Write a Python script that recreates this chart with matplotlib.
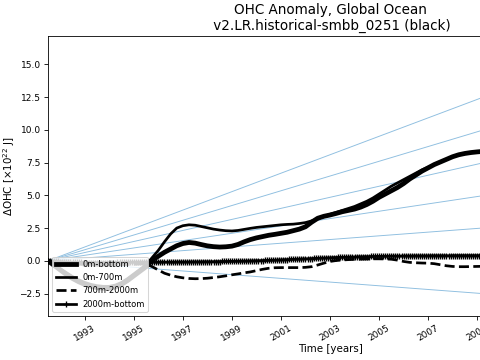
import numpy as np
import matplotlib
matplotlib.use('Agg')
import matplotlib.pyplot as plt

# quarterly values from 1991.5 to 2009.5, units 1e22 J
ohc_0_bottom = [
    0.00, -0.35, -0.70, -1.05,
    -1.35, -1.60, -1.80, -1.95,
    -2.05, -2.10, -2.10, -2.00,
    -1.80, -1.50, -1.15, -0.80,
    -0.45, 0.05, 0.35, 0.65,
    0.90, 1.15, 1.32, 1.40,
    1.35, 1.24, 1.14, 1.08,
    1.05, 1.07, 1.12, 1.25,
    1.45, 1.62, 1.75, 1.85,
    1.95, 2.02, 2.10, 2.18,
    2.30, 2.42, 2.60, 2.95,
    3.25, 3.40, 3.50, 3.62,
    3.75, 3.85, 3.95, 4.10,
    4.30, 4.55, 4.85, 5.10,
    5.35, 5.60, 5.90, 6.25,
    6.55, 6.85, 7.10, 7.35,
    7.55, 7.75, 7.95, 8.10,
    8.20, 8.27, 8.32, 8.36,
    8.38,
]
ohc_0_700 = [
    0.00, -0.30, -0.60, -0.90,
    -1.20, -1.45, -1.65, -1.80,
    -1.90, -1.95, -1.95, -1.85,
    -1.65, -1.35, -1.00, -0.65,
    -0.30, 0.25, 0.80, 1.45,
    2.05, 2.50, 2.68, 2.75,
    2.72, 2.62, 2.52, 2.42,
    2.35, 2.30, 2.28, 2.32,
    2.40, 2.48, 2.55, 2.60,
    2.65, 2.70, 2.75, 2.78,
    2.80, 2.85, 2.92, 3.05,
    3.20, 3.40, 3.55, 3.70,
    3.85, 4.00, 4.15, 4.35,
    4.55, 4.80, 5.10, 5.40,
    5.70, 5.95, 6.20, 6.45,
    6.70, 6.95, 7.15, 7.35,
    7.55, 7.75, 7.95, 8.10,
    8.20, 8.28, 8.32, 8.36,
    8.38,
]
ohc_700_2000 = [
    0.00, -0.05, -0.10, -0.15,
    -0.20, -0.25, -0.28, -0.30,
    -0.32, -0.33, -0.33, -0.32,
    -0.30, -0.28, -0.26, -0.24,
    -0.25, -0.45, -0.70, -0.95,
    -1.10, -1.22, -1.30, -1.35,
    -1.37, -1.36, -1.33, -1.28,
    -1.22, -1.15, -1.07, -1.00,
    -0.92, -0.85, -0.75, -0.65,
    -0.57, -0.53, -0.52, -0.52,
    -0.52, -0.52, -0.50, -0.45,
    -0.32, -0.18, -0.05, 0.02,
    0.06, 0.09, 0.11, 0.13,
    0.14, 0.15, 0.15, 0.14,
    0.12, 0.05, -0.05, -0.12,
    -0.15, -0.17, -0.18, -0.22,
    -0.30, -0.38, -0.43, -0.45,
    -0.45, -0.44, -0.43, -0.42,
    -0.42,
]
# monthly values from 1991.5 to 2009.5
ohc_2000_bottom = [
    0.00, -0.01, -0.02, -0.03, -0.04, -0.05, -0.06, -0.07, -0.08, -0.09, -0.10, -0.10,
    -0.11, -0.11, -0.12, -0.12, -0.12, -0.13, -0.13, -0.13, -0.13, -0.14, -0.14, -0.14,
    -0.14, -0.14, -0.14, -0.14, -0.14, -0.14, -0.13, -0.13, -0.13, -0.13, -0.12, -0.12,
    -0.12, -0.12, -0.11, -0.11, -0.11, -0.11, -0.10, -0.10, -0.10, -0.10, -0.10, -0.10,
    -0.10, -0.10, -0.10, -0.10, -0.10, -0.10, -0.10, -0.10, -0.10, -0.10, -0.10, -0.10,
    -0.10, -0.10, -0.10, -0.09, -0.09, -0.09, -0.09, -0.09, -0.09, -0.09, -0.08, -0.08,
    -0.08, -0.08, -0.08, -0.08, -0.07, -0.07, -0.07, -0.07, -0.07, -0.06, -0.06, -0.06,
    -0.06, -0.05, -0.05, -0.05, -0.05, -0.04, -0.04, -0.04, -0.03, -0.03, -0.03, -0.02,
    -0.02, -0.02, -0.01, -0.01, 0.00, 0.00, 0.01, 0.01, 0.02, 0.02, 0.03, 0.03,
    0.04, 0.04, 0.05, 0.05, 0.06, 0.07, 0.07, 0.08, 0.09, 0.09, 0.10, 0.11,
    0.11, 0.12, 0.13, 0.13, 0.14, 0.15, 0.15, 0.16, 0.17, 0.17, 0.18, 0.19,
    0.19, 0.20, 0.21, 0.21, 0.22, 0.23, 0.23, 0.24, 0.25, 0.25, 0.26, 0.26,
    0.27, 0.27, 0.28, 0.28, 0.29, 0.29, 0.30, 0.30, 0.31, 0.31, 0.31, 0.32,
    0.32, 0.32, 0.33, 0.33, 0.33, 0.34, 0.34, 0.34, 0.35, 0.35, 0.35, 0.35,
    0.36, 0.36, 0.36, 0.36, 0.36, 0.37, 0.37, 0.37, 0.37, 0.37, 0.37, 0.38,
    0.38, 0.38, 0.38, 0.38, 0.38, 0.38, 0.38, 0.39, 0.39, 0.39, 0.39, 0.39,
    0.39, 0.39, 0.39, 0.39, 0.39, 0.39, 0.40, 0.40, 0.40, 0.40, 0.40, 0.40,
    0.40, 0.40, 0.40, 0.40, 0.40, 0.40, 0.40, 0.40, 0.40, 0.40, 0.40, 0.40,
    0.40,
]
# constant heating rate reference lines: value reached at end of the record
ref_start = 1991.5
ref_end = 2014.5
ref_end_values = [16.2, 12.95, 9.7, 6.45, 3.25, -3.25]

t_q = 1991.5 + np.arange(len(ohc_0_bottom)) / 4.
t_m = 1991.5 + np.arange(len(ohc_2000_bottom)) / 12.

fig = plt.figure(figsize=(6.4, 4.8), dpi=75)
ax = fig.add_axes([0.1, 0.122, 1.175, 0.778])

for v in ref_end_values:
    ax.plot([ref_start, ref_end], [0, v], color='#8fbfe0', lw=0.9)

ax.plot(t_q, ohc_0_bottom, 'k-', lw=4.6, label='0m-bottom')
ax.plot(t_q, ohc_0_700, 'k-', lw=2.6, label='0m-700m')
ax.plot(t_q, ohc_700_2000, 'k--', lw=2.6, label='700m-2000m')
ax.plot(t_m, ohc_2000_bottom, 'k-', lw=2.6, marker='+', ms=6.5, mew=1.3, label='2000m-bottom')

ax.set_xlim(ref_start, ref_end)
ax.set_xticks(np.arange(1993, 2015, 2))
ax.tick_params(labelsize=8.6)
plt.setp(ax.get_xticklabels(), rotation=30)
ax.set_xlabel('Time [years]', fontsize=9.8, labelpad=1)
ax.set_ylabel(r'$\Delta$OHC [$\times10^{22}$ J]', fontsize=9.8, labelpad=2)
ax.set_title('OHC Anomaly, Global Ocean\n v2.LR.historical-smbb_0251 (black)', fontsize=13)
ax.legend(loc='lower left', fontsize=8, handlelength=2.4)

fig.savefig('out.png')
